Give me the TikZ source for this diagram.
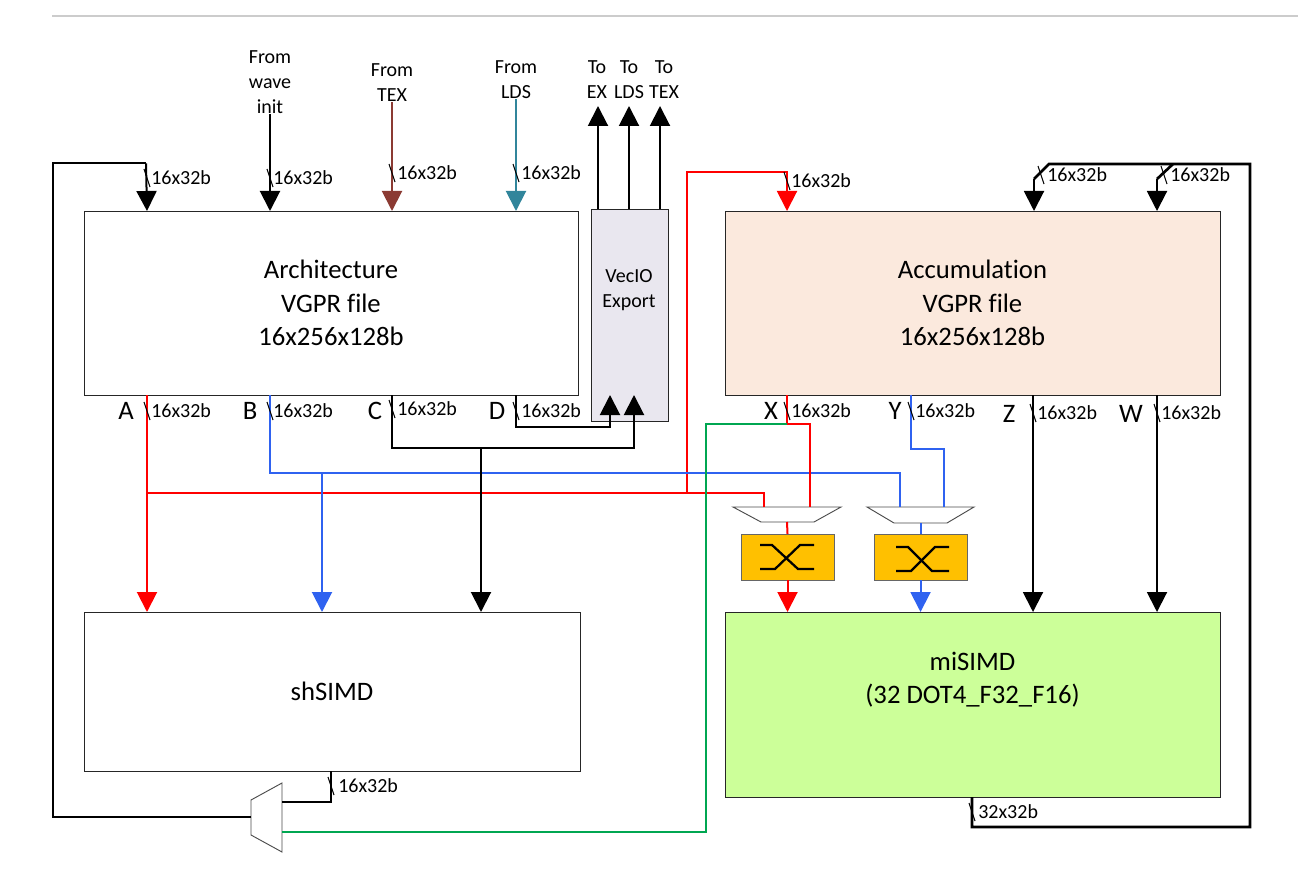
\documentclass[tikz,border=0pt]{standalone}
\usepackage{fontspec}
\setmainfont[Ligatures=NoCommon]{Carlito}
\usetikzlibrary{arrows.meta,calc}
\definecolor{cred}{HTML}{FF0000}
\definecolor{cblue}{HTML}{2F62F0}
\definecolor{cbrown}{HTML}{8B3A33}
\definecolor{cteal}{HTML}{31859B}
\definecolor{cgreen}{HTML}{00A651}
\definecolor{xbarfill}{HTML}{FFC000}
\definecolor{veciofill}{HTML}{E9E7EF}
\definecolor{accfill}{HTML}{FBE9DD}
\definecolor{mifill}{HTML}{CCFF99}
\tikzset{
  x=0.75pt,y=-0.75pt,
  blockbox/.style={draw=black!85,line width=0.7pt,rectangle,inner sep=0pt,outer sep=0pt,align=center,font=\fontsize{20}{25}\selectfont},
  blocktext/.style={inner sep=0pt,align=center,font=\fontsize{20}{25}\selectfont},
  xbarbox/.style={draw=black!60,line width=0.7pt,fill=xbarfill,rectangle,inner sep=0pt,outer sep=0pt,minimum width=69.75pt,minimum height=34.5pt},
  xbarline/.style={line width=1.7pt,black},
  wire/.style={line width=1.5pt,black},
  tipped/.style={-{Triangle[width=15pt,length=15pt]}},
  buswidth/.style={font=\fontsize{15}{15}\selectfont,inner sep=0pt,anchor=west},
  tag/.style={font=\fontsize{20}{20}\selectfont,inner sep=0pt},
  src/.style={font=\fontsize{15}{18.75}\selectfont,inner sep=0pt,align=center},
  muxshape/.style={draw=black!70,line width=0.7pt,fill=white},
}
\newcommand{\buslabel}[5][16x32b]{% name, tick x, tick y, label x
  \draw[line width=0.8pt,black] ($(#3,#4)+(-3,-9)$) -- ($(#3,#4)+(3,9)$);
  \node[buswidth] (#2) at (#5,#4) {#1};
}
\begin{document}
\begin{tikzpicture}
\useasboundingbox (0,0) rectangle (1298,891);
\coordinate (ruleL) at (52,16);
\coordinate (ruleR) at (1298,16);
\draw[line width=1.3pt,black!20] (ruleL) -- (ruleR);

% blocks
\node[blockbox,minimum width=370.5pt,minimum height=138pt] (arch) at (331,303) {Architecture\\VGPR file\\16x256x128b};
\node[blockbox,fill=veciofill,minimum width=57.75pt,minimum height=159pt] (vecio) at (629.5,315) {};
\node[src] (veciotext) at (629,290) {VecIO\\Export};
\node[blockbox,fill=accfill,minimum width=371.25pt,minimum height=138pt] (acc) at (972.5,303) {Accumulation\\VGPR file\\16x256x128b};
\node[blockbox,minimum width=372pt,minimum height=119.25pt] (sh) at (332,691.5) {shSIMD};
\node[blockbox,fill=mifill,minimum width=371.25pt,minimum height=138.75pt] (mi) at (972.5,704.5) {};
\node[blocktext] (mitext) at (972.5,680) {miSIMD\\(32 DOT4\_F32\_F16)};

% crossbars and muxes
\node[xbarbox] (xa) at (787.5,557) {};
\node[xbarbox] (xb) at (920.5,557) {};
\draw[muxshape] (733,507) -- (841,507) -- (814,522) -- (761,522) -- cycle;
\draw[muxshape] (867,507) -- (974,507) -- (947,523) -- (894,523) -- cycle;
\draw[muxshape] (282,783) -- (282,852) -- (251,835) -- (251,800) -- cycle;
\coordinate (maOut) at (787,522);
\coordinate (mbOut) at (920.5,523);
\coordinate (mcLeft) at (251,817);

\draw[xbarline] (760,545) -- (772,545) -- (798,569) -- (814,569);
\draw[xbarline] (760,569) -- (775,569) -- (800,545) -- (814,545);
\draw[xbarline] (896,547) -- (908,547) -- (932,571) -- (949,571);
\draw[xbarline] (896,571) -- (911,571) -- (935,547) -- (949,547);

% inputs
\node[src] (nwave) at (270,82) {From\\wave\\init};
\node[src] (ntex) at (392,83) {From\\TEX};
\node[src] (nlds) at (516,80) {From\\LDS};
\node[src] (tex1) at (597,80) {To\\EX};
\node[src] (tex2) at (629,80) {To\\LDS};
\node[src] (tex3) at (664,80) {To\\TEX};
\coordinate (ain1) at (147,211);
\coordinate (ain2) at (270,211);
\coordinate (ain3) at (392,211);
\coordinate (ain4) at (516,211);
\draw[wire,tipped] (nwave.south) -- (ain2);
\draw[wire,cbrown,tipped] (ntex.south) -- (ain3);
\draw[wire,cteal,tipped] (nlds.south) -- (ain4);
\draw[wire,tipped] (598,209) -- (598,106);
\draw[wire,tipped] (629,209) -- (629,106);
\draw[wire,tipped] (660,209) -- (660,106);

% feedback
\draw[wire] (mcLeft) -- (53,817) -- (53,163.5) -- (146,163.5);
\draw[wire,tipped] (146,163.5) -- (ain1);
\draw[wire] (331,771) -- (331,802) -- (282,802);

% reads from arch
\coordinate (A) at (147,395);
\coordinate (B) at (270,395);
\coordinate (C) at (392,395);
\coordinate (D) at (516,395);
\draw[wire,cred,tipped] (A) -- (147,612);
\draw[wire,cred] (147,493) -- (764,493) -- (764,507);
\draw[wire,cred,tipped] (687,493) -- (687,172) -- (787,172) -- (787,211);
\draw[wire,cblue] (B) -- (270,473) -- (900,473) -- (900,507);
\draw[wire,cblue,tipped] (322,473) -- (322,612);
\draw[wire,tipped] (C) -- (392,448) -- (634,448) -- (634,395);
\draw[wire,tipped] (481,448) -- (481,612);
\draw[wire,tipped] (D) -- (516,427) -- (610,427) -- (610,395);

% accum reads
\coordinate (X) at (787,395);
\coordinate (Y) at (911,395);
\draw[wire,cred] (X) -- (787,424) -- (810,424) -- (810,507);
\draw[wire,cgreen] (282,832) -- (706,832) -- (706,424) -- (787,424);
\draw[wire,cblue] (Y) -- (911,449) -- (944,449) -- (944,507);
\draw[wire,cred] (maOut) -- (xa.north);
\draw[wire,cblue] (mbOut) -- (xb.north);
\draw[wire,cred,tipped] (xa.south) -- (787.5,612);
\draw[wire,cblue,tipped] (xb.south) -- (920.5,612);
\draw[wire,tipped] (1033,395) -- (1033,612);
\draw[wire,tipped] (1157,395) -- (1157,612);

% miSIMD write back
\draw[wire,line width=2pt] (972,797) -- (972,827) -- (1250,827) -- (1250,164) -- (1049,164) -- (1034,179);
\draw[wire,tipped] (1034,179) -- (1034,211);
\draw[wire,line width=2pt] (1173,164) -- (1157,179);
\draw[wire,tipped] (1157,179) -- (1157,211);

% bus labels
\buslabel{l1}{147}{178}{151}
\buslabel{l2}{270}{178}{273}
\buslabel{l3}{392}{173}{397}
\buslabel{l4}{516}{173}{521}
\buslabel{l5}{787}{181}{791}
\buslabel{l6}{1041}{175}{1047}
\buslabel{l7}{1164}{175}{1170}
\buslabel{l8}{147}{411}{151}
\buslabel{l9}{270}{411}{273}
\buslabel{l10}{392}{409}{397}
\buslabel{l11}{516}{411}{521}
\buslabel{l12}{787}{411}{791}
\buslabel{l13}{911}{411}{915}
\buslabel{l14}{1033}{413}{1037}
\buslabel{l15}{1157}{413}{1161}
\buslabel{l16}{331}{786}{338}
\buslabel[32x32b]{l17}{972}{812}{978}

\node[tag] (ta) at (126,411) {A};
\node[tag] (tb) at (250,411) {B};
\node[tag] (tc) at (375,411) {C};
\node[tag] (td) at (497,411) {D};
\node[tag] (tx) at (771,411) {X};
\node[tag] (ty) at (895,411) {Y};
\node[tag] (tz) at (1009,414) {Z};
\node[tag] (tw) at (1131,414) {W};
\end{tikzpicture}
\end{document}
